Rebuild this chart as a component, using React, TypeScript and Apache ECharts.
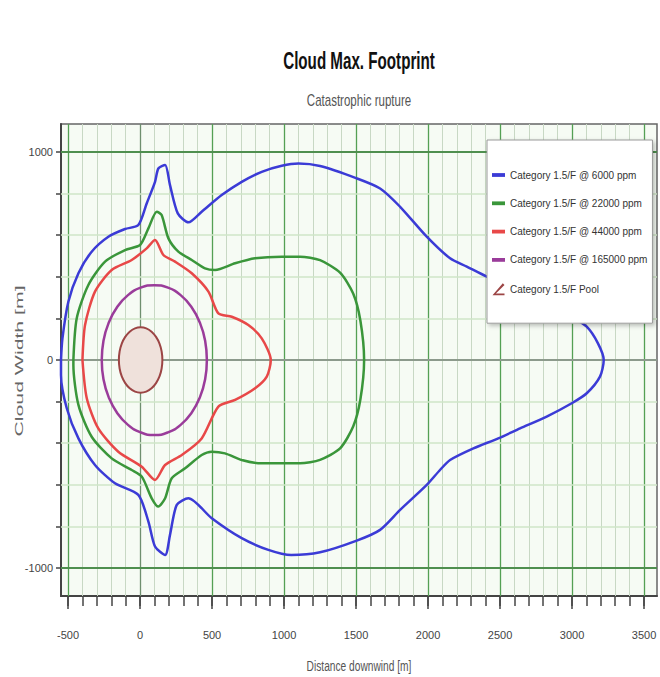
import React, { useEffect, useRef } from 'react';
import * as echarts from 'echarts';

const FONT = "'Liberation Sans', Arial, sans-serif";

const chartTitle = 'Cloud Max. Footprint';
const chartSubtitle = 'Catastrophic rupture';
const xAxisName = 'Distance downwind [m]';
const yAxisName = 'Cloud Width [m]';

const xTickLabels = [-500, 0, 500, 1000, 1500, 2000, 2500, 3000, 3500];
const yTickLabels = [-1000, 0, 1000];

const seriesNames = [
  'Category 1.5/F @ 6000 ppm',
  'Category 1.5/F @ 22000 ppm',
  'Category 1.5/F @ 44000 ppm',
  'Category 1.5/F @ 165000 ppm',
  'Category 1.5/F Pool',
];

const cloud6000 = [
  [-549, 0], [-539, 104], [-498, 280], [-428, 417], [-336, 521], [-220, 593], [-104, 630], [-12, 649],
  [46, 753], [104, 857], [127, 921], [174, 938], [208, 841], [262, 705], [336, 662], [428, 713],
  [567, 793], [706, 857], [845, 905], [984, 934], [1100, 945], [1250, 933], [1500, 875], [1667, 825],
  [1806, 737], [1991, 593], [2153, 489], [2269, 449], [2407, 401], [2639, 329], [2824, 272], [2998, 208],
  [3102, 160], [3180, 80], [3220, 0],
  [3194, -80], [3102, -160], [2998, -208], [2824, -272], [2639, -329], [2488, -377], [2315, -425], [2153, -481],
  [2083, -529], [1991, -601], [1806, -721], [1667, -817], [1500, -870], [1250, -925], [1050, -938], [891, -913],
  [706, -857], [498, -761], [336, -665], [255, -697], [208, -841], [174, -938], [104, -897], [58, -777],
  [-12, -649], [-174, -593], [-313, -505], [-428, -377], [-509, -232], [-549, -72], [-549, 0],
];

const cloud22000 = [
  [-463, 0], [-440, 200], [-359, 361], [-243, 473], [-104, 529], [0, 553], [58, 633], [116, 713],
  [150, 697], [197, 585], [266, 521], [359, 481], [451, 441], [521, 433], [660, 465], [799, 489],
  [984, 497], [1111, 497], [1250, 480], [1389, 420], [1480, 320], [1530, 190], [1556, 0],
  [1530, -190], [1480, -320], [1389, -425], [1250, -480], [1111, -497], [1007, -497], [845, -497],
  [706, -481], [590, -449], [498, -441], [428, -457], [313, -521], [220, -569], [174, -665], [127, -705],
  [81, -665], [12, -561], [-58, -529], [-197, -473], [-336, -369], [-428, -216], [-463, -24], [-463, 0],
];

const cloud44000 = [
  [-400, 0], [-382, 168], [-313, 329], [-197, 433], [-58, 481], [46, 537], [104, 577], [162, 505],
  [243, 473], [359, 417], [475, 329], [544, 224], [637, 208], [752, 168], [845, 104], [908, 0],
  [880, -80], [799, -136], [660, -192], [544, -224], [428, -377], [290, -457], [174, -505], [104, -577],
  [12, -513], [-151, -441], [-290, -329], [-370, -184], [-400, 0],
];

const cloud165000 = [
  [464, 0], [452, 93], [415, 180], [357, 255], [282, 312], [194, 348], [99, 360], [4, 348],
  [-84, 312], [-159, 255], [-217, 180], [-254, 93], [-266, 0], [-254, -93], [-217, -180], [-159, -255],
  [-84, -312], [4, -348], [99, -361], [194, -348], [282, -312], [357, -255], [415, -180], [452, -93], [464, 0],
];

const poolOutline = [
  [155, 0], [150, 41], [135, 79], [111, 111], [80, 136], [43, 152], [4, 157], [-35, 152],
  [-72, 136], [-103, 111], [-127, 79], [-142, 41], [-147, 0], [-142, -41], [-127, -79], [-103, -111],
  [-72, -136], [-35, -152], [4, -157], [43, -152], [80, -136], [111, -111], [135, -79], [150, -41],
];

const lineColors = ['#3b3bd6', '#3a963a', '#e84848', '#9a3c9a'];
const poolStroke = '#9c4545';
const poolFill = '#efe1db';

export default function App() {
  const ref = useRef<HTMLDivElement>(null);

  useEffect(() => {
    if (!ref.current) return;
    const chart = echarts.init(ref.current, undefined, { renderer: 'svg' });

    const xMinor: number[] = [];
    for (let v = xTickLabels[0]; v <= xTickLabels[xTickLabels.length - 1]; v += 100) xMinor.push(v);
    const yMinor: number[] = [];
    for (let v = yTickLabels[0]; v <= yTickLabels[yTickLabels.length - 1]; v += 200) yMinor.push(v);

    const gridLines: any[] = [
      ...xMinor.map((v) => ({
        xAxis: v,
        lineStyle: {
          type: 'solid',
          color: v % 500 === 0 ? (v === 0 ? '#6f8f6f' : '#54a054') : '#c8d8c4',
          width: v % 500 === 0 ? 1.3 : 1,
        },
      })),
      ...yMinor.map((v) => ({
        yAxis: v,
        lineStyle: {
          type: 'solid',
          color: v === 0 ? '#8c9a8c' : Math.abs(v) === 1000 ? '#4f8f4f' : '#cfe6c8',
          width: v === 0 || Math.abs(v) === 1000 ? 2 : 1.6,
        },
      })),
    ];

    const lineSeries = [cloud6000, cloud22000, cloud44000, cloud165000].map((d, i) => ({
      type: 'line',
      name: seriesNames[i],
      data: d,
      showSymbol: false,
      symbol: 'none',
      smooth: i === 3 ? 0.5 : 0.25,
      clip: true,
      z: 10,
      color: lineColors[i],
      lineStyle: { color: lineColors[i], width: 2.5 },
      emphasis: { disabled: true },
    }));

    const axisFont = { fontFamily: FONT, fontSize: 11, color: '#444' };
    const plain = (v: number) => String(v);
    const barIcon = 'path://M0,0 L12,0 L12,3.5 L0,3.5 Z';

    chart.setOption({
      animation: false,
      backgroundColor: '#ffffff',
      textStyle: { fontFamily: FONT },
      graphic: [
        {
          type: 'text',
          x: 359,
          y: 61,
          scaleX: 0.66,
          style: {
            text: chartTitle,
            fontFamily: FONT,
            fontSize: 23,
            fontWeight: 'bold',
            fill: '#111',
            align: 'center',
            verticalAlign: 'middle',
          },
        },
        {
          type: 'text',
          x: 359,
          y: 100,
          scaleX: 0.72,
          style: {
            text: chartSubtitle,
            fontFamily: FONT,
            fontSize: 16,
            fill: '#555',
            align: 'center',
            verticalAlign: 'middle',
          },
        },
        {
          type: 'text',
          x: 359,
          y: 666,
          scaleX: 0.68,
          style: {
            text: xAxisName,
            fontFamily: FONT,
            fontSize: 15,
            fill: '#555',
            align: 'center',
            verticalAlign: 'middle',
          },
        },
        {
          type: 'text',
          x: 20,
          y: 361,
          rotation: Math.PI / 2,
          scaleX: 1.25,
          scaleY: 0.62,
          style: {
            text: yAxisName,
            fontFamily: FONT,
            fontSize: 17,
            fill: '#666',
            align: 'center',
            verticalAlign: 'middle',
          },
        },
      ],
      grid: {
        left: 61,
        right: 3,
        top: 124,
        bottom: 81,
        show: true,
        backgroundColor: '#f6fbf4',
        borderColor: '#666',
        borderWidth: 1.5,
        containLabel: false,
        outerBoundsMode: 'none',
      },
      legend: {
        orient: 'vertical',
        left: 487,
        top: 140,
        z: 20,
        backgroundColor: '#ffffff',
        borderColor: '#9a9a9a',
        borderWidth: 1,
        shadowBlur: 4,
        shadowColor: 'rgba(0,0,0,0.25)',
        shadowOffsetX: 2,
        shadowOffsetY: 2,
        padding: [30, 5, 28, 5],
        itemGap: 18.3,
        itemWidth: 13,
        itemHeight: 12,
        symbolKeepAspect: true,
        selectedMode: false,
        textStyle: { fontFamily: FONT, fontSize: 10, color: '#333' },
        data: [
          { name: seriesNames[0], icon: barIcon },
          { name: seriesNames[1], icon: barIcon },
          { name: seriesNames[2], icon: barIcon },
          { name: seriesNames[3], icon: barIcon },
          {
            name: seriesNames[4],
            icon: 'path://M0,14 L12,0 L14,2 L4,12 L14,12 L14,14 Z',
            itemStyle: { color: poolStroke },
          },
        ],
      },
      xAxis: [
        {
          type: 'value',
          min: -549,
          max: 3590,
          position: 'bottom',
          axisLine: { show: true, onZero: false, lineStyle: { color: '#444', width: 2 } },
          axisTick: { show: true, customValues: xMinor, length: 10, lineStyle: { color: '#444', width: 1.5 } },
          axisLabel: { show: false },
          splitLine: { show: false },
        },
        {
          type: 'value',
          min: -549,
          max: 3590,
          position: 'bottom',
          axisLine: { show: false, onZero: false },
          axisTick: { show: true, customValues: xTickLabels, length: 13, lineStyle: { color: '#444', width: 1.5 } },
          axisLabel: { show: true, customValues: xTickLabels, margin: 33, formatter: plain, ...axisFont },
          splitLine: { show: false },
        },
      ],
      yAxis: {
        type: 'value',
        min: -1135,
        max: 1135,
        axisLine: { show: true, onZero: false, lineStyle: { color: '#444', width: 2 } },
        axisTick: { show: true, customValues: yMinor, length: 5, lineStyle: { color: '#444', width: 1.5 } },
        axisLabel: { show: true, customValues: yTickLabels, margin: 8, formatter: plain, ...axisFont },
        splitLine: { show: false },
      },
      series: [
        {
          type: 'line',
          name: 'grid',
          data: [],
          z: 1,
          silent: true,
          markLine: {
            silent: true,
            symbol: ['none', 'none'],
            label: { show: false },
            emphasis: { disabled: true },
            animation: false,
            data: gridLines,
          },
        },
        ...lineSeries,
        {
          type: 'custom',
          name: seriesNames[4],
          coordinateSystem: 'cartesian2d',
          data: [[0, 0]],
          z: 10,
          itemStyle: { color: poolStroke },
          renderItem: (_params: any, api: any) => ({
            type: 'polygon',
            shape: { points: poolOutline.map((p) => api.coord(p)), smooth: 0.3 },
            style: { fill: poolFill, stroke: poolStroke, lineWidth: 2 },
          }),
        },
      ],
    });

    return () => chart.dispose();
  }, []);

  return (
    <div
      ref={ref}
      style={{ position: 'fixed', left: 0, top: 0, width: 660, height: 677, background: '#fff' }}
    />
  );
}
